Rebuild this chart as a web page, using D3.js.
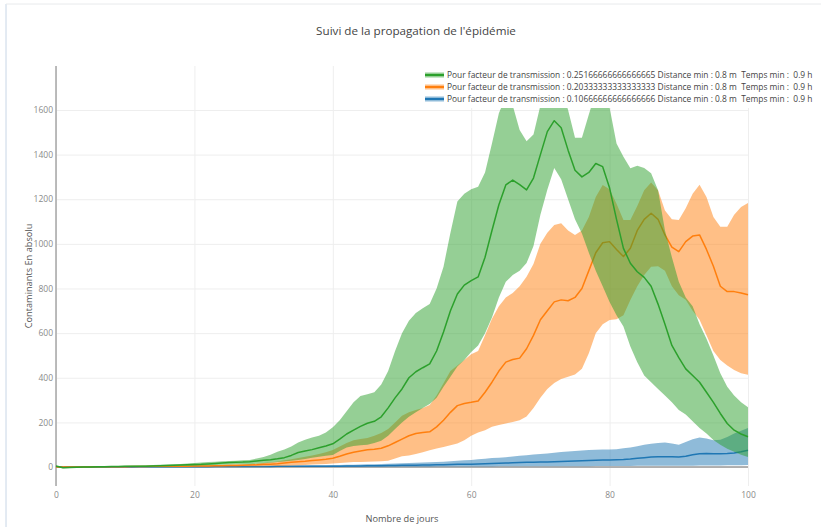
<!DOCTYPE html>
<meta charset="utf-8">
<style>
body { margin: 0; background: #fff; }
text { font-family: "Open Sans", verdana, arial, sans-serif; }
</style>
<svg width="821" height="527"></svg>
<script src="https://d3js.org/d3.v7.min.js"></script>
<script>

var days = d3.range(0, 101); // one value per day, 0..100

// facteur 0.2517 (green)
var greenMean = [5,-3,-2,-1,0,0,1,1,2,2,
  3,3,4,4,5,6,7,8,9,10,
  11,12,14,16,18,20,21,22,24,27,
  30,33,37,42,52,65,72,78,86,94,
  104,125,148,165,182,196,205,225,265,310,
  350,400,427,445,462,520,605,700,775,815,
  835,852,940,1060,1175,1264,1286,1265,1242,1295,
  1400,1503,1552,1520,1420,1330,1300,1320,1360,1346,
  1250,1110,980,913,875,850,810,730,640,545,
  490,440,410,380,335,290,240,195,165,148,136];
var greenHi = [6,0,1,2,2,3,3,4,4,5,
  6,6,7,8,9,10,11,12,14,16,
  18,20,22,24,26,27,28,30,32,38,
  45,55,68,78,92,110,122,132,140,155,
  178,210,250,290,318,326,335,370,430,520,
  600,655,690,712,730,800,898,1050,1190,1225,
  1245,1256,1320,1450,1585,1660,1620,1510,1460,1490,
  1620,1700,1720,1700,1600,1475,1475,1580,1680,1690,
  1610,1450,1390,1339,1350,1340,1316,1240,1060,940,
  830,760,720,640,575,500,420,360,320,290,268];
var greenLo = [4,-5,-4,-3,-2,-2,-1,-1,0,0,
  1,1,2,2,3,3,4,4,5,5,
  6,7,8,9,10,11,12,12,13,15,
  17,19,22,25,28,31,36,42,46,50,
  54,72,88,94,98,100,108,118,140,170,
  200,225,245,265,282,310,360,405,450,480,
  515,545,600,670,760,830,860,880,914,990,
  1130,1242,1340,1290,1200,1110,1047,960,880,810,
  740,680,630,540,470,410,380,350,320,290,
  255,235,205,175,150,121,100,82,68,55,45];

// facteur 0.2033 (orange)
var orangeMean = [0,0,0,0,0,1,1,1,1,1,
  1,2,2,2,3,3,3,4,4,4,
  5,5,5,6,6,7,7,8,9,10,
  12,13,15,18,21,24,26,29,32,35,
  39,48,58,66,72,77,80,84,95,110,
  125,140,150,155,158,180,210,245,275,285,
  290,296,335,380,430,470,482,488,530,590,
  660,700,740,749,745,760,800,880,960,1005,
  1010,975,943,980,1060,1110,1137,1110,1040,985,
  965,1010,1035,1040,975,900,810,786,786,780,772];
var orangeHi = [1,1,1,1,1,2,2,2,2,3,
  3,3,4,4,5,5,6,6,7,7,
  8,9,9,10,10,11,12,13,14,16,
  18,21,25,30,35,40,46,52,58,66,
  76,92,108,120,126,130,140,152,170,200,
  230,245,255,265,278,320,375,430,455,480,
  505,520,590,665,720,760,780,810,853,910,
  1000,1050,1085,1092,1060,1040,1060,1120,1210,1264,
  1245,1180,1107,1107,1170,1240,1275,1240,1150,1110,
  1107,1160,1225,1265,1210,1120,1077,1077,1130,1165,1183];
var orangeLo = [0,0,0,0,0,0,0,0,0,0,
  0,1,1,1,1,1,1,1,2,2,
  2,2,2,3,3,3,3,3,4,4,
  4,5,5,6,7,8,9,11,13,14,
  16,18,20,22,23,24,25,26,28,38,
  48,52,58,66,75,83,90,98,106,120,
  140,155,165,180,188,195,202,210,226,265,
  310,350,376,395,405,415,440,510,600,640,
  659,662,680,748,810,860,898,900,880,810,
  770,750,700,660,590,520,480,455,435,420,413];

// facteur 0.1067 (blue)
var blueMean = [0,0,0,0,0,0,0,0,0,0,
  0,0,1,1,1,1,1,1,1,1,
  1,1,1,2,2,2,2,2,2,2,
  2,2,3,3,3,3,3,3,4,4,
  4,4,5,5,5,6,6,6,7,7,
  8,8,8,9,9,10,10,11,12,12,
  13,14,15,16,17,18,19,20,21,21,
  22,23,24,25,26,27,28,29,30,31,
  32,33,34,36,39,42,45,46,46,46,
  45,48,55,60,61,60,60,61,63,68,75];
var blueHi = [0,0,0,0,0,0,1,1,1,1,
  1,1,1,1,1,2,2,2,2,2,
  2,2,3,3,3,3,4,4,4,5,
  5,5,6,6,6,7,7,8,8,8,
  9,9,10,10,11,12,13,14,15,16,
  17,18,19,20,21,22,24,26,28,30,
  32,35,37,40,42,44,47,50,53,56,
  58,61,64,67,70,72,74,76,77,78,
  78,80,84,88,93,100,104,108,110,106,
  100,112,125,132,128,120,122,135,150,163,175];
var blueLo = [0,0,0,0,0,0,0,0,0,0,
  0,0,0,0,0,0,0,0,0,0,
  0,0,0,0,0,0,0,0,0,0,
  0,0,0,0,0,0,0,0,0,0,
  0,0,0,0,1,1,1,1,1,1,
  1,1,1,1,1,2,2,2,2,2,
  2,2,2,2,3,3,3,3,3,3,
  3,3,4,4,4,4,4,4,5,5,
  5,5,5,5,6,6,6,6,6,6,
  6,6,6,7,7,7,7,8,8,8,9];

var legendLabels = [
  "Pour facteur de transmission : 0.25166666666666665 Distance min : 0.8 m  Temps min :  0.9 h",
  "Pour facteur de transmission : 0.20333333333333333 Distance min : 0.8 m  Temps min :  0.9 h",
  "Pour facteur de transmission : 0.10666666666666666 Distance min : 0.8 m  Temps min :  0.9 h"
];
var xTicks = [0, 20, 40, 60, 80, 100];
var yTicks = [0, 200, 400, 600, 800, 1000, 1200, 1400, 1600];

// legend order: green, orange, blue ; drawn in reverse so green is on top
var series = [
  {name: legendLabels[0], color: "#2ca02c", fill: "rgba(44,160,44,0.5)", mean: greenMean, hi: greenHi, lo: greenLo},
  {name: legendLabels[1], color: "#ff7f0e", fill: "rgba(255,127,14,0.5)", mean: orangeMean, hi: orangeHi, lo: orangeLo},
  {name: legendLabels[2], color: "#1f77b4", fill: "rgba(31,119,180,0.5)", mean: blueMean, hi: blueHi, lo: blueLo}
];

var svg = d3.select("svg"),
    plot = {left: 56, right: 748, top: 66, bottom: 486};

// page frame
svg.append("line").attr("x1", 6).attr("x2", 6).attr("y1", 4).attr("y2", 527)
  .attr("stroke", "#c8d6e6").attr("stroke-width", 1);
svg.append("line").attr("x1", 6).attr("x2", 821).attr("y1", 4).attr("y2", 4)
  .attr("stroke", "#e8eaec").attr("stroke-width", 1);

var x = d3.scaleLinear().domain([0, 100]).range([plot.left, plot.right]);
var y = d3.scaleLinear().domain([-85, 1797]).range([plot.bottom, plot.top]);

function fitWidth(t, target) {
  var fs = parseFloat(t.attr("font-size"));
  var w = t.node().getComputedTextLength();
  t.attr("font-size", fs * target / w);
}

// title
var title = svg.append("text")
  .attr("x", 416).attr("y", 35)
  .attr("text-anchor", "middle")
  .attr("font-size", 12.5)
  .attr("fill", "#444")
  .text("Suivi de la propagation de l'épidémie");
fitWidth(title, 200);

// grid + tick labels
var gy = svg.append("g")
  .attr("transform", "translate(" + plot.left + ",0)")
  .call(d3.axisLeft(y).tickValues(yTicks).tickFormat(d3.format("d"))
    .tickSize(-(plot.right - plot.left)).tickPadding(3));
gy.select(".domain").remove();
gy.selectAll(".tick line").attr("stroke", "#eeeeee");
gy.selectAll(".tick text").attr("fill", "#8a8a8a").attr("font-size", 8.5).attr("font-family", null);

var gx = svg.append("g")
  .attr("transform", "translate(0," + plot.bottom + ")")
  .call(d3.axisBottom(x).tickValues(xTicks).tickFormat(d3.format("d"))
    .tickSize(-(plot.bottom - plot.top)).tickPadding(6));
gx.select(".domain").remove();
gx.selectAll(".tick line").attr("stroke", "#eeeeee");
gx.selectAll(".tick text").attr("fill", "#8a8a8a").attr("font-size", 8.5).attr("font-family", null);

// zero lines
svg.append("line")
  .attr("x1", x(0)).attr("x2", x(0)).attr("y1", plot.top).attr("y2", plot.bottom)
  .attr("stroke", "#a6a6a6").attr("stroke-width", 1.5);
svg.append("line")
  .attr("x1", plot.left).attr("x2", plot.right).attr("y1", y(0)).attr("y2", y(0))
  .attr("stroke", "#999").attr("stroke-width", 1.5);

// traces
var area = d3.area()
  .x(function(d, i) { return x(days[i]); });
var line = d3.line()
  .x(function(d, i) { return x(days[i]); })
  .y(function(d) { return y(d); });

var traces = svg.append("g");
series.slice().reverse().forEach(function(s) {
  traces.append("path")
    .datum(s.hi)
    .attr("fill", s.fill)
    .attr("d", area.y0(function(d, i) { return y(s.lo[i]); }).y1(function(d) { return y(d); }));
  traces.append("path")
    .datum(s.mean)
    .attr("fill", "none")
    .attr("stroke", s.color)
    .attr("stroke-width", 1.5)
    .attr("stroke-linejoin", "round")
    .attr("d", line);
});

// legend (white box over the plot, like plotly)
var legend = svg.append("g");
legend.append("rect")
  .attr("x", 420).attr("y", plot.top).attr("width", 401).attr("height", 42)
  .attr("fill", "#fff");
series.forEach(function(s, i) {
  var cy = 75 + i * 12;
  legend.append("rect")
    .attr("x", 425).attr("y", cy - 2.5).attr("width", 19).attr("height", 5)
    .attr("fill", s.fill);
  legend.append("line")
    .attr("x1", 425).attr("x2", 444).attr("y1", cy).attr("y2", cy)
    .attr("stroke", s.color).attr("stroke-width", 2);
  var t = legend.append("text")
    .attr("x", 447).attr("y", cy + 3)
    .attr("font-size", 9)
    .attr("fill", "#444")
    .style("white-space", "pre")
    .text(s.name);
  fitWidth(t, 366);
});

// axis titles
var xt = svg.append("text")
  .attr("x", (plot.left + plot.right) / 2).attr("y", 522)
  .attr("text-anchor", "middle")
  .attr("font-size", 10)
  .attr("fill", "#555")
  .text("Nombre de jours");
fitWidth(xt, 73);

svg.append("text")
  .attr("transform", "translate(32," + (plot.top + plot.bottom) / 2 + ") rotate(-90)")
  .attr("text-anchor", "middle")
  .attr("font-size", xt.attr("font-size"))
  .attr("fill", "#555")
  .text("Contaminants En absolu");

</script>
